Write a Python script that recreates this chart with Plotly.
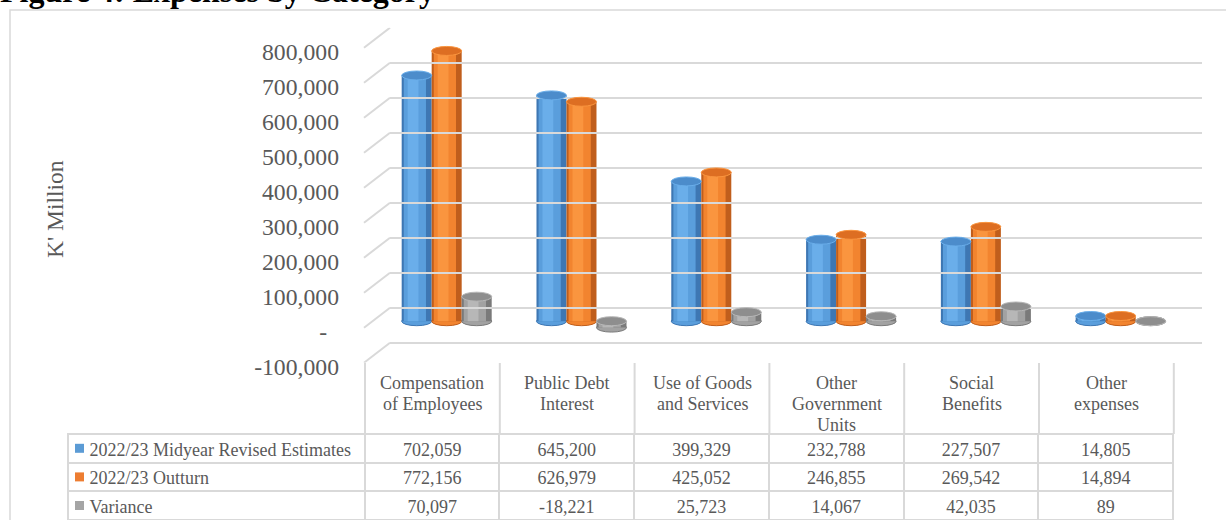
import plotly.graph_objects as go

# ---------------- data ----------------
categories = ["Compensation of Employees", "Public Debt Interest", "Use of Goods and Services",
              "Other Government Units", "Social Benefits", "Other expenses"]
category_labels = ["Compensation<br>of Employees", "Public Debt<br>Interest", "Use of Goods<br>and Services",
                   "Other<br>Government<br>Units", "Social<br>Benefits", "Other<br>expenses"]
series_names = ["2022/23 Midyear Revised Estimates", "2022/23 Outturn", "Variance"]
midyear = [702059, 645200, 399329, 232788, 227507, 14805]
outturn = [772156, 626979, 425052, 246855, 269542, 14894]
variance = [70097, -18221, 25723, 14067, 42035, 89]
tick_values = [800000, 700000, 600000, 500000, 400000, 300000, 200000, 100000, 0, -100000]
tick_labels = ["800,000", "700,000", "600,000", "500,000", "400,000", "300,000",
               "200,000", "100,000", "-\u00a0\u00a0", "-100,000"]

series_values = [midyear, outturn, variance]

# ---------------- styling ----------------
W, H = 1226, 520
SERIF = "Liberation Serif, Times New Roman, serif"
TXT = "#595959"
GRID = "#d9d9d9"
legend_colors = ["#5B9BD5", "#ED7D31", "#A5A5A5"]
# (dark edge, body, highlight, cap)
shades = [
    ("#3E77B3", "#5A9EDC", "#6AAEEA", "#4C8CCB"),
    ("#C05E1C", "#F2842F", "#FA953F", "#DD6E22"),
    ("#7A7A7A", "#A2A2A2", "#B7B7B7", "#8E8E8E"),
]
bar_w = 0.2226
offsets = [-0.334, -0.1114, 0.1112]

# table geometry (pixels)
TBL_LEFT, COL0_RIGHT, COL_W = 68, 365, 134.8
HEAD_TOP, HEAD_H, ROW_H = 365, 69, 28.6

# back wall geometry (pixels); the axis extends 20 px below the floor line for the side wall
WALL_TOP, WALL_FLOOR, DEPTH_DX, DEPTH_DY = 27.7, 342.7, 26, 20
PX_PER_UNIT = (WALL_FLOOR - WALL_TOP) / (tick_values[0] - tick_values[-1])
y2_low = tick_values[-1] - DEPTH_DY / PX_PER_UNIT


def px_x(p):
    return p / W


def px_y(p):
    return 1 - p / H


fig = go.Figure()
x_idx = list(range(len(categories)))

shapes = []
for s, vals in enumerate(series_values):
    dark, body, hi, cap = shades[s]
    o = offsets[s]
    layers = [(0.0, 1.0, dark), (0.07, 0.74, body), (0.2, 0.36, hi)]
    for (lo, frac, col) in layers:
        fig.add_trace(go.Bar(
            x=x_idx, y=vals, base=0,
            offset=o + lo * bar_w, width=frac * bar_w,
            marker=dict(color=col, line=dict(width=0)),
            name=series_names[s], showlegend=False, hoverinfo="skip",
            xaxis="x", yaxis="y"))
    for j, v in enumerate(vals):
        top = max(v, 0)
        bot = min(v, 0)
        shapes.append(dict(type="circle", xref="x", yref="y",
                           x0=j + o, x1=j + o + bar_w,
                           ysizemode="pixel", yanchor=bot, y0=-4.5, y1=4.5,
                           fillcolor=body, line=dict(color=dark, width=1), layer="between"))
        shapes.append(dict(type="circle", xref="x", yref="y",
                           x0=j + o, x1=j + o + bar_w,
                           ysizemode="pixel", yanchor=top, y0=-4.5, y1=4.5,
                           fillcolor=cap, line=dict(color=hi, width=1), layer="above"))

# helper trace for the back-wall grid axes
fig.add_trace(go.Scatter(x=[0, 1], y=[tick_values[-1], tick_values[0]], mode="markers",
                         marker=dict(opacity=0), showlegend=False, hoverinfo="skip",
                         xaxis="x2", yaxis="y2"))

# side-wall diagonals of the grid
for v in tick_values:
    shapes.append(dict(type="line", xref="paper", yref="y2",
                       xsizemode="pixel", xanchor=px_x(390), x0=-DEPTH_DX, x1=0,
                       ysizemode="pixel", yanchor=v, y0=-DEPTH_DY, y1=0,
                       line=dict(color=GRID, width=2), layer="above"))

# header dividers of the data table
for k in range(len(categories) + 1):
    xp = COL0_RIGHT + k * COL_W
    shapes.append(dict(type="line", xref="paper", yref="paper",
                       x0=px_x(xp), x1=px_x(xp), y0=px_y(363), y1=px_y(HEAD_TOP + HEAD_H),
                       line=dict(color=GRID, width=2), layer="above"))

# legend keys in the table's first column
for s, c in enumerate(legend_colors):
    yc = HEAD_TOP + HEAD_H + ROW_H * (s + 0.5)
    shapes.append(dict(type="rect", xref="paper", yref="paper",
                       x0=px_x(75), x1=px_x(84), y0=px_y(yc + 4.5), y1=px_y(yc - 4.5),
                       fillcolor=c, line=dict(width=0), layer="above"))

# outer chart border
shapes.append(dict(type="rect", xref="paper", yref="paper",
                   x0=px_x(10), x1=1.05, y0=px_y(10), y1=-0.05,
                   line=dict(color=GRID, width=1.5), fillcolor="rgba(0,0,0,0)", layer="below"))

# ---------------- data table ----------------
label_cells = ["\u00a0\u00a0\u00a0" + n for n in series_names]
value_cols = [[f"{series_values[s][j]:,}" for s in range(3)] for j in range(len(categories))]

fig.add_trace(go.Table(
    domain=dict(x=[px_x(TBL_LEFT), px_x(COL0_RIGHT + 6 * COL_W)], y=[0, px_y(HEAD_TOP)]),
    columnwidth=[COL0_RIGHT - TBL_LEFT] + [COL_W] * len(categories),
    header=dict(values=[""] * (len(categories) + 1), height=HEAD_H,
                fill=dict(color="rgba(0,0,0,0)"), line=dict(color="rgba(0,0,0,0)", width=0),
                font=dict(family=SERIF, size=18, color=TXT), align="center"),
    cells=dict(values=[label_cells] + value_cols, height=ROW_H,
               fill=dict(color="white"), line=dict(color=GRID, width=2),
               font=dict(family=SERIF, size=18, color=TXT),
               align=["left"] + ["center"] * len(categories)),
))

# header texts (each line centred, Excel-like line spacing)
annotations = []
for k, lab in enumerate(category_labels):
    xc = COL0_RIGHT + COL_W * (k + 0.5)
    for i, line in enumerate(lab.split("<br>")):
        annotations.append(dict(text=line, xref="paper", yref="paper",
                                x=px_x(xc), y=px_y(382.7 + 21 * i), xanchor="center", yanchor="middle",
                                showarrow=False, font=dict(family=SERIF, size=18, color=TXT)))

annotations += [
    dict(text="<b>Figure 4: Expenses by Category</b>", xref="paper", yref="paper",
         x=0, y=1, xanchor="left", yanchor="bottom", xshift=-2, yshift=-11, showarrow=False,
         font=dict(family=SERIF, size=32, color="black")),
    dict(text="K' Million", xref="paper", yref="paper", x=px_x(55), y=px_y(209),
         textangle=-90, showarrow=False, xanchor="center", yanchor="middle",
         font=dict(family=SERIF, size=23.5, color=TXT)),
]

fig.update_layout(
    width=W, height=H, autosize=False,
    margin=dict(l=0, r=0, t=0, b=0, pad=0, autoexpand=False),
    paper_bgcolor="white", plot_bgcolor="rgba(0,0,0,0)",
    barmode="overlay",
    showlegend=False,
    xaxis=dict(domain=[px_x(379.3), px_x(1188.1)], range=[-0.5, 5.5], visible=False, anchor="y",
               automargin=False),
    yaxis=dict(domain=[px_y(356.2), px_y(41.2)], range=[tick_values[-1], tick_values[0]],
               visible=False, anchor="x", automargin=False),
    xaxis2=dict(domain=[px_x(390), px_x(1202)], range=[0, 1], showgrid=False, showticklabels=False,
                zeroline=False, showline=False, ticks="", anchor="y2", automargin=False),
    yaxis2=dict(domain=[px_y(WALL_FLOOR + DEPTH_DY), px_y(WALL_TOP)], range=[y2_low, tick_values[0]],
                anchor="x2", tickvals=tick_values, ticktext=tick_labels, automargin=False,
                showgrid=True, gridcolor=GRID, gridwidth=2, zeroline=False, showline=False, ticks="",
                ticklabelshift=24, ticklabelstandoff=50,
                tickfont=dict(family=SERIF, size=23.7, color=TXT)),
    shapes=shapes,
    annotations=annotations,
)

fig.write_html("out.html", config={"displayModeBar": False},
               post_script="document.body.style.margin='0';document.body.style.overflow='hidden';")
